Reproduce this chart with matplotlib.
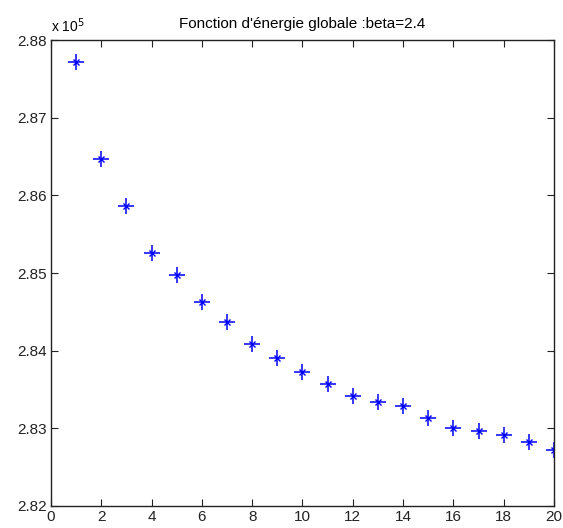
import numpy as np
import matplotlib.pyplot as plt
from matplotlib.ticker import FuncFormatter

plt.rcParams['font.family'] = ['Liberation Sans', 'DejaVu Sans']

# --------------------------

iterations = np.arange(1, 21)

energy = np.array([
    2.8772, 2.8647, 2.8586, 2.8526, 2.8497, 2.8463, 2.8437, 2.8409, 2.8391, 2.8373,
    2.8357, 2.8341, 2.8334, 2.8329, 2.8313, 2.8300, 2.8297, 2.8292, 2.8282, 2.8272,
]) * 1e5

xticks = np.arange(0, 21, 2)
yticks = np.array([2.82, 2.83, 2.84, 2.85, 2.86, 2.87, 2.88]) * 1e5

fig = plt.figure(figsize=(5.63, 5.28), dpi=100)
ax = fig.add_axes([0.0906, 0.0417, 0.8934, 0.8825])

# matlab style '*' marker = plus + cross
ax.plot(iterations, energy, "+", color="blue", markersize=11, markeredgewidth=1.1)
ax.plot(iterations, energy, "x", color="blue", markersize=5, markeredgewidth=1.0)

ax.set_xlim(0, 20)
ax.set_ylim(yticks[0], yticks[-1])
ax.set_xticks(xticks)
ax.set_yticks(yticks)
ax.yaxis.set_major_formatter(FuncFormatter(lambda v, p: f"{v / 1e5:.2f}"))

ax.tick_params(direction="in", top=True, right=True, length=5, labelsize=11, pad=3,
               colors="#222222")
for s in ax.spines.values():
    s.set_linewidth(1.0)
    s.set_color("#222222")

ax.text(0.0, 1.01, r"x 10$^5$", transform=ax.transAxes, fontsize=10, va="bottom", ha="left")
ax.set_title("Fonction d'énergie globale :beta=2.4", fontsize=11, pad=9)

fig.savefig("out.png", dpi=100)
